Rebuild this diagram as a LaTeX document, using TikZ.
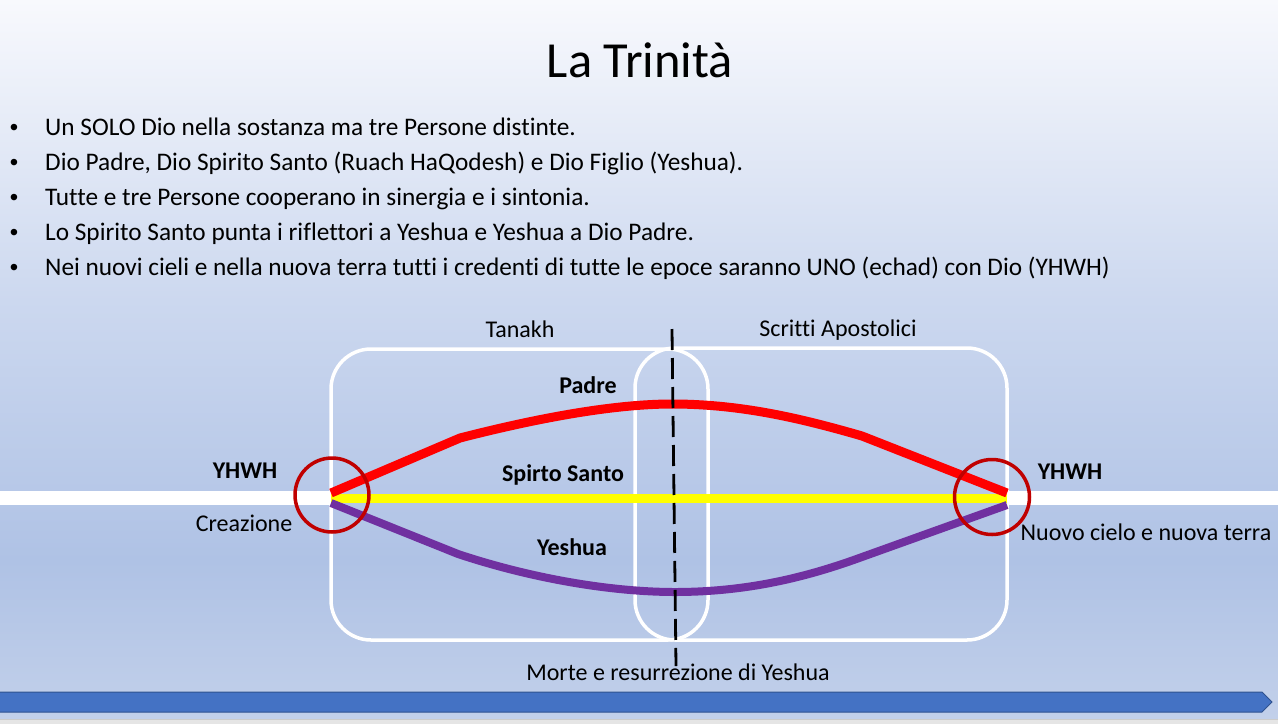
\documentclass[tikz,border=0pt]{standalone}
\usepackage{fontspec}
\setmainfont{Carlito}[Ligatures=NoCommon]
\newfontfamily\bulletfont{Liberation Sans}
\definecolor{bgA}{HTML}{F8F9FD}
\definecolor{bgB}{HTML}{CCD8EF}
\definecolor{bgC}{HTML}{AFC2E5}
\definecolor{bgD}{HTML}{C2D0EA}
\definecolor{ptred}{HTML}{FF0000}
\definecolor{ptyellow}{HTML}{FFFF00}
\definecolor{ptpurple}{HTML}{7030A0}
\definecolor{ptdark}{HTML}{C00000}
\definecolor{arrfill}{HTML}{4472C4}
\definecolor{arredge}{HTML}{2F528F}
\tikzset{
  bodytext/.style={font=\fontsize{25.3}{30}\selectfont, inner sep=0pt, anchor=base west},
  bulletmark/.style={font=\bulletfont\fontsize{24}{28}\selectfont, inner sep=0pt, anchor=base},
  lbl/.style={font=\fontsize{24}{28}\selectfont, inner sep=0pt, anchor=base},
  blbl/.style={font=\fontsize{24}{28}\selectfont\bfseries, inner sep=0pt, anchor=base},
  erabox/.style={draw=white, line width=3.5pt, rounded corners=40pt},
  band/.style={line width=9pt, line join=round},
  ring/.style={draw=ptdark, line width=3.5pt},
}
\begin{document}
\begin{tikzpicture}[x=1pt,y=-1pt]
\useasboundingbox (0,0) rectangle (1278,724);
% background
\shade[top color=bgA, bottom color=bgB] (0,0) rectangle (1278,300.5);
\shade[top color=bgB, bottom color=bgC] (0,300) rectangle (1278,560.5);
\shade[top color=bgC, bottom color=bgD] (0,560) rectangle (1278,719);
\fill[gray!20] (0,719) rectangle (1278,724);
\draw[gray!40, line width=1pt] (0,719.5) -- (1278,719.5);

% title
\node[font=\fontsize{50.5}{58}\selectfont, inner sep=0pt, anchor=base] (title) at (640,77) {La Trinità};

% bullets
\foreach \y/\t [count=\i] in {135/{Un SOLO Dio nella sostanza ma tre Persone distinte.},
  170/{Dio Padre, Dio Spirito Santo (Ruach HaQodesh) e Dio Figlio (Yeshua).},
  205/{Tutte e tre Persone cooperano in sinergia e i sintonia.},
  240/{Lo Spirito Santo punta i riflettori a Yeshua e Yeshua a Dio Padre.},
  275/{Nei nuovi cieli e nella nuova terra tutti i credenti di tutte le epoce saranno UNO (echad) con Dio (YHWH)}}{
  \node[bulletmark] (b\i) at (14,\y) {•};
  \node[bodytext] (t\i) at (45,\y) {\t};
}

% white timeline band
\coordinate (bandL) at (0,498);
\coordinate (bandR) at (1278,498);
\coordinate (start) at (331,498);
\coordinate (end) at (1007,498);
\draw[white, line width=14pt] (bandL) -- (start);
\draw[white, line width=14pt] (end) -- (bandR);

% era boxes
\draw[erabox] (331,349) rectangle (708,640);
\draw[erabox] (635,348) rectangle (1007,640);

% lines
\draw[band, ptyellow] (start) -- (end);
\draw[band, ptred] (331,493) -- (460,438) .. controls (530,420) and (610,404) .. (672,404)
   .. controls (740,404) and (800,418) .. (862,436) -- (1007,493);
\draw[band, ptpurple, line width=8pt] (331,503) -- (458,554) .. controls (530,578) and (610,592) .. (675,592)
   .. controls (750,592) and (810,576) .. (862,557) -- (1007,505);

% circles
\draw[ring] (332,495) circle (37);
\draw[ring] (992,497) circle (37.5);

% resurrection dashed line
\coordinate (dtop) at (672,329);
\coordinate (dbot) at (676,666);
\draw[black, line width=2.8pt, dash pattern=on 21pt off 8pt] (dtop) -- (dbot);

% labels
\node[lbl] (tanakh) at (520,337) {Tanakh};
\node[lbl] (scritti) at (838,336) {Scritti Apostolici};
\node[blbl] (padre) at (588,393) {Padre};
\node[blbl] (spirito) at (563,481) {Spirto Santo};
\node[blbl] (yeshua) at (572,555) {Yeshua};
\node[blbl] (yhwhL) at (245,478) {YHWH};
\node[lbl] (creaz) at (244,531) {Creazione};
\node[blbl] (yhwhR) at (1070,479) {YHWH};
\node[lbl] (nuovo) at (1146,540) {Nuovo cielo e nuova terra};
\node[lbl] (morte) at (678,680) {Morte e resurrezione di Yeshua};

% bottom arrow
\draw[fill=arrfill, draw=arredge, line width=1pt] (-2,692) -- (1262,692) -- (1272,702) -- (1262,712) -- (-2,712) -- cycle;
\end{tikzpicture}
\end{document}
